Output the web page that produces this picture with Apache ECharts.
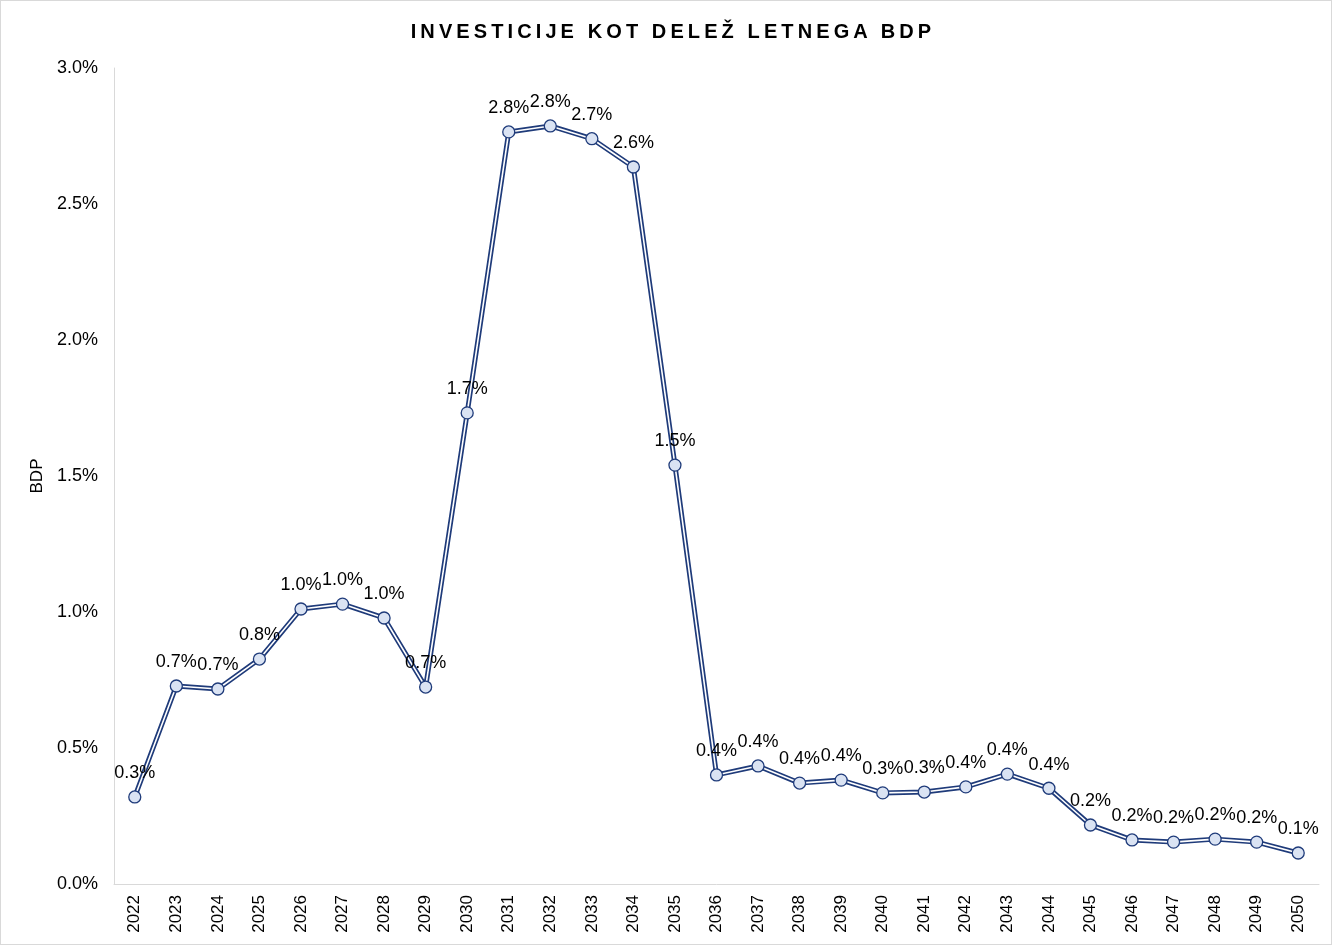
<!DOCTYPE html>
<html>
<head>
<meta charset="utf-8">
<script src="https://cdn.jsdelivr.net/npm/echarts@6/dist/echarts.min.js"></script>
<style>
  html, body { margin: 0; padding: 0; background: #fff; }
  #wrap { position: relative; width: 1332px; height: 945px; box-sizing: border-box; border: 1px solid #d9d9d9; }
  #title { position: absolute; top: 19px; left: 7px; width: 100%; text-align: center;
           font: bold 20px "Liberation Sans", Arial, sans-serif; letter-spacing: 4.1px; color: #000; }
  #chart { position: absolute; left: 0; top: 0; width: 1330px; height: 943px; }
</style>
</head>
<body>
<div id="wrap">
  <div id="chart"></div>
  <div id="title">INVESTICIJE KOT DELEŽ LETNEGA BDP</div>
</div>
<script>
// leta in delež investicij v BDP (%)
const years = ['2022','2023','2024','2025','2026','2027','2028','2029','2030','2031',
               '2032','2033','2034','2035','2036','2037','2038','2039','2040','2041',
               '2042','2043','2044','2045','2046','2047','2048','2049','2050'];
const shares = [0.32, 0.728, 0.717, 0.827, 1.011, 1.029, 0.978, 0.724, 1.732, 2.765,
                2.787, 2.74, 2.636, 1.54, 0.401, 0.434, 0.371, 0.382, 0.335, 0.338,
                0.357, 0.404, 0.352, 0.217, 0.162, 0.154, 0.165, 0.154, 0.114];

const navy = '#1f3b7a';
const font = '"Liberation Sans", Arial, sans-serif';

const chart = echarts.init(document.getElementById('chart'));
chart.setOption({
    backgroundColor: '#ffffff',
    animation: false,
    grid: { left: 113, right: 12, top: 67, bottom: 60 },
    xAxis: {
        type: 'category',
        data: years,
        boundaryGap: true,
        axisLine: { lineStyle: { color: '#d9d9d9', width: 1 } },
        axisTick: { show: false },
        axisLabel: { rotate: 90, color: '#000', fontSize: 17, fontFamily: font, margin: 11 }
    },
    yAxis: {
        type: 'value',
        min: 0, max: 3, interval: 0.5,
        name: 'BDP',
        nameLocation: 'middle',
        nameGap: 64,
        nameRotate: 90,
        nameTextStyle: { color: '#000', fontSize: 17, fontFamily: font },
        axisLine: { show: true, lineStyle: { color: '#d9d9d9', width: 1 } },
        axisTick: { show: false },
        splitLine: { show: false },
        axisLabel: { color: '#000', fontSize: 18, fontFamily: font, margin: 16,
                     formatter: v => v.toFixed(1) + '%' }
    },
    series: [
        {
            type: 'line',
            data: shares,
            showSymbol: false,
            lineStyle: { color: navy, width: 5 },
            silent: true,
            z: 2
        },
        {
            type: 'line',
            data: shares,
            symbol: 'circle',
            symbolSize: 12,
            lineStyle: { color: '#ffffff', width: 1.6 },
            itemStyle: { color: '#dae3f3', borderColor: navy, borderWidth: 1.3 },
            label: {
                show: true, position: 'top', distance: 8,
                color: '#000', fontSize: 18, fontFamily: font,
                formatter: p => p.value.toFixed(1) + '%'
            },
            z: 3
        }
    ]
});
</script>
</body>
</html>
